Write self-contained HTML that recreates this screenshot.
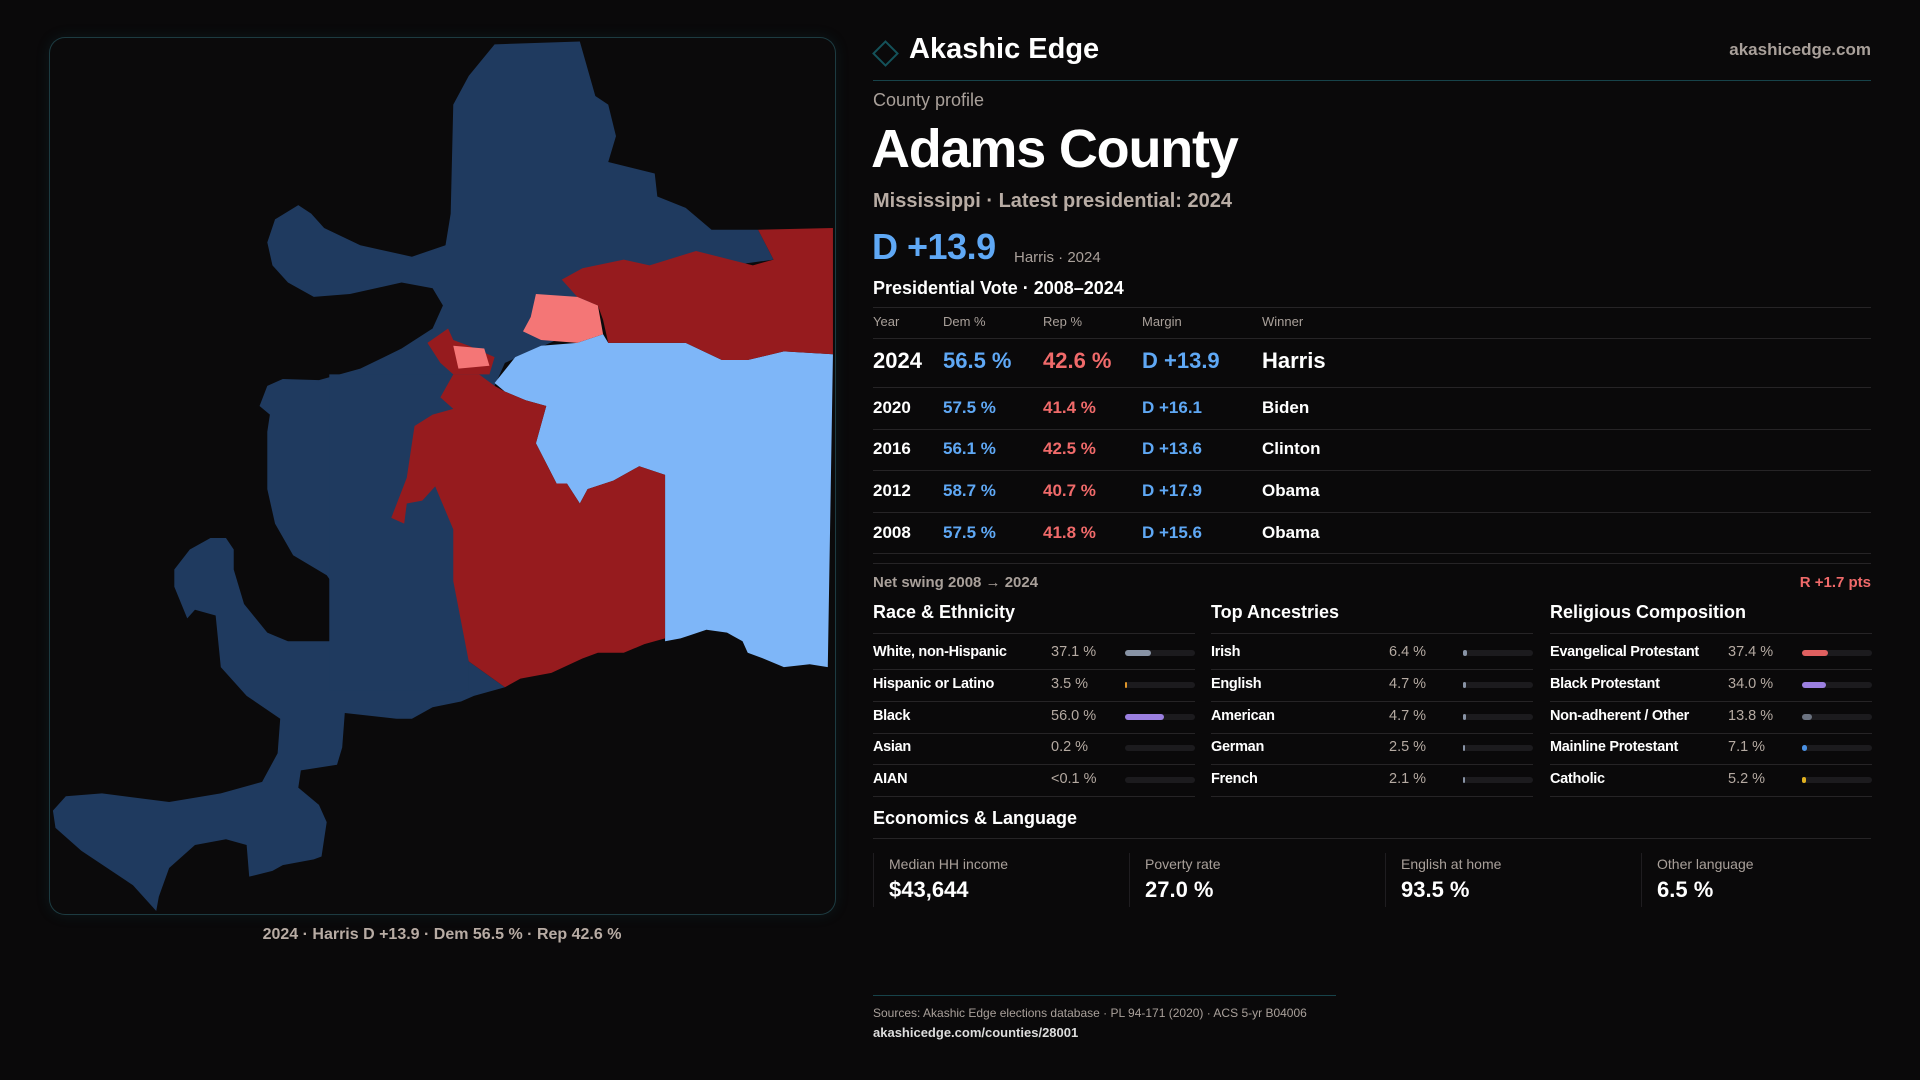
<!DOCTYPE html>
<html><head><meta charset="utf-8"><style>
*{margin:0;padding:0;box-sizing:border-box}
body{width:1920px;height:1080px;background:#0a090a;font-family:"Liberation Sans",sans-serif;color:#fff;position:relative;overflow:hidden}
.a{position:absolute;white-space:nowrap}
.g{color:#a9a09a}
.hl{position:absolute;height:1px;background:#262426}
.blue{color:#5fa8f5}.red{color:#f06a6a}
</style></head><body>
<div class="a" style="left:49px;top:37px;width:787px;height:878px;border:1px solid rgba(50,120,130,.45);border-radius:16px;background:#0b0a0b;box-shadow:0 0 14px rgba(30,110,120,.15)"></div>
<svg style="position:absolute;left:40px;top:30px" width="810" height="900" viewBox="0 0 1568 1568" preserveAspectRatio="none">
<polygon fill="#1f3a5f" points="880,25 1045,20 1075,115 1100,130 1115,185 1100,230 1190,250 1195,290 1250,310 1300,348 1390,348 1420,400 1100,440 1000,540 900,580 880,620 830,640 800,660 760,680 720,860 800,870 800,960 830,1100 900,1145 840,1160 815,1170 760,1180 720,1200 690,1200 590,1190 585,1250 575,1280 505,1290 500,1320 540,1350 555,1380 545,1440 530,1445 470,1455 450,1465 405,1475 400,1420 360,1410 300,1420 250,1460 230,1510 225,1535 180,1490 80,1430 30,1390 25,1360 50,1335 120,1330 250,1345 350,1330 430,1310 460,1260 465,1200 400,1160 350,1110 340,1020 300,1010 285,1025 260,970 260,940 290,905 330,885 360,885 375,905 375,940 395,1000 440,1050 480,1065 560,1065 580,1040 575,975 555,950 490,915 455,860 440,800 440,700 445,670 425,655 440,620 470,608 540,610 620,590 700,555 760,520 780,480 760,450 700,440 600,460 530,465 480,440 450,410 440,370 455,330 500,305 525,320 550,345 620,375 720,395 785,375 795,320 800,130 830,80"/>
<polygon fill="#1f3a5f" points="560,600 830,600 830,1150 560,1150"/>
<polygon fill="#7eb6f8" points="880,615 920,570 970,550 1040,545 1090,530 1100,545 1250,545 1320,575 1370,575 1440,560 1535,565 1525,1110 1490,1105 1440,1110 1400,1095 1370,1085 1360,1065 1330,1050 1290,1045 1240,1060 1210,1065 1210,775 1160,760 1110,785 1060,800 1045,825 1020,790 1000,790 960,720 980,655 940,645 900,630"/>
<polygon fill="#961b1e" points="1010,435 1050,415 1130,400 1180,410 1270,385 1380,410 1420,400 1390,348 1535,345 1535,565 1440,560 1370,575 1320,575 1250,545 1100,545 1090,505 1080,480 1040,465"/>
<polygon fill="#f47676" points="960,460 1040,465 1080,480 1090,530 1040,545 970,540 935,525 950,500"/>
<polygon fill="#961b1e" points="775,640 800,600 850,600 880,620 900,630 940,645 980,655 960,720 1000,790 1020,790 1045,825 1060,800 1110,785 1160,760 1210,775 1210,1060 1170,1070 1130,1085 1080,1085 1050,1095 990,1120 930,1130 900,1145 830,1100 800,960 800,870 765,795 740,820 710,825 705,860 680,850 710,780 725,690 760,670 800,660"/>
<polygon fill="#961b1e" points="750,545 790,520 800,540 830,550 880,570 870,600 800,600 775,580"/>
<polygon fill="#f47676" points="800,550 860,555 870,585 810,590"/>
</svg>
<div class="a g" style="left:442px;top:926px;transform:translateX(-50%);font-size:16px;font-weight:bold;color:#b8aca4">2024 · Harris D +13.9 · Dem 56.5 % · Rep 42.6 %</div>

<div class="a" style="left:876px;top:44px;width:19px;height:19px;border:2px solid #14525a;transform:rotate(45deg)"></div>
<div class="a" style="left:909px;top:33px;font-size:29px;font-weight:bold">Akashic Edge</div>
<div class="a" style="right:49px;top:40px;font-size:17px;font-weight:bold;color:#a9a09a">akashicedge.com</div>
<div class="hl" style="left:873px;top:80px;width:998px;background:#17434a"></div>
<div class="a g" style="left:873px;top:90px;font-size:18px">County profile</div>
<div class="a" style="left:871px;top:118px;font-size:54px;font-weight:bold;letter-spacing:-1.2px">Adams County</div>
<div class="a" style="left:873px;top:190px;font-size:20px;font-weight:bold;color:#b8aca4">Mississippi · Latest presidential: 2024</div>
<div class="a blue" style="left:872px;top:226px;font-size:36px;font-weight:bold;letter-spacing:-0.5px">D +13.9</div>
<div class="a g" style="left:1014px;top:249px;font-size:15px">Harris · 2024</div>
<div class="a" style="left:873px;top:278px;font-size:18px;font-weight:bold">Presidential Vote · 2008–2024</div>
<div class="hl" style="left:873px;top:307px;width:998px"></div>
<div class="a g" style="left:873px;top:314px;font-size:13px">Year</div>
<div class="a g" style="left:943px;top:314px;font-size:13px">Dem %</div>
<div class="a g" style="left:1043px;top:314px;font-size:13px">Rep %</div>
<div class="a g" style="left:1142px;top:314px;font-size:13px">Margin</div>
<div class="a g" style="left:1262px;top:314px;font-size:13px">Winner</div>
<div class="hl" style="left:873px;top:338px;width:998px"></div>
<div id="vote"></div>
<div class="hl" style="left:873px;top:563px;width:998px"></div>
<div class="a g" style="left:873px;top:574px;font-size:15px;font-weight:bold">Net swing 2008 → 2024</div>
<div class="a red" style="right:49px;top:574px;font-size:15px;font-weight:bold">R +1.7 pts</div>
<div id="demo"></div>
<div class="a" style="left:873px;top:808px;font-size:18px;font-weight:bold">Economics &amp; Language</div>
<div class="hl" style="left:873px;top:838px;width:998px"></div>
<div id="econ"></div>
<div class="hl" style="left:873px;top:995px;width:463px;background:#17434a"></div>
<div class="a g" style="left:873px;top:1006px;font-size:12px">Sources: Akashic Edge elections database · PL 94-171 (2020) · ACS 5-yr B04006</div>
<div class="a" style="left:873px;top:1025px;font-size:13px;font-weight:bold;color:#ddd">akashicedge.com/counties/28001</div>
<script>
const years=["2024","2020","2016","2012","2008"];
const demPct=[56.5,57.5,56.1,58.7,57.5];
const repPct=[42.6,41.4,42.5,40.7,41.8];
const margins=[13.9,16.1,13.6,17.9,15.6];
const winners=["Harris","Biden","Clinton","Obama","Obama"];
const raceLabels=["White, non-Hispanic","Hispanic or Latino","Black","Asian","AIAN"];
const raceValues=[37.1,3.5,56.0,0.2,0.05];
const raceText=["37.1 %","3.5 %","56.0 %","0.2 %","<0.1 %"];
const ancLabels=["Irish","English","American","German","French"];
const ancValues=[6.4,4.7,4.7,2.5,2.1];
const relLabels=["Evangelical Protestant","Black Protestant","Non-adherent / Other","Mainline Protestant","Catholic"];
const relValues=[37.4,34.0,13.8,7.1,5.2];
const econLabels=["Median HH income","Poverty rate","English at home","Other language"];
const econValues=["$43,644","27.0 %","93.5 %","6.5 %"];

const vote=document.getElementById('vote');
const rowY=[361,408,449,491,533];
years.forEach((y,i)=>{
  const fs=i===0?22:17, top=rowY[i]-fs*0.6;
  const m=margins[i];
  const cells=[[873,y,'#fff'],[943,demPct[i].toFixed(1)+' %','#5fa8f5'],[1043,repPct[i].toFixed(1)+' %','#f06a6a'],[1142,(m>=0?'D +':'R +')+Math.abs(m).toFixed(1),m>=0?'#5fa8f5':'#f06a6a'],[1262,winners[i],'#fff']];
  cells.forEach(c=>{const d=document.createElement('div');d.className='a';
    
    
    d.style.cssText=`left:${c[0]}px;top:${top}px;font-size:${fs}px;font-weight:bold;color:${c[2]}`;d.textContent=c[1];vote.appendChild(d);});
  const l=document.createElement('div');l.className='hl';
  
  
  l.style.cssText=`left:873px;top:${[387,429,470,512,553][i]}px;width:998px`;vote.appendChild(l);
});

const demo=document.getElementById('demo');
const cols=[{x:873,t:"Race & Ethnicity",L:raceLabels,V:raceValues,T:raceText,C:["#8893a5","#e0962a","#9b7fe0","#8893a5","#8893a5"]},
 {x:1211,t:"Top Ancestries",L:ancLabels,V:ancValues,T:ancValues.map(v=>v.toFixed(1)+' %'),C:["#8893a5","#8893a5","#8893a5","#8893a5","#8893a5"]},
 {x:1550,t:"Religious Composition",L:relLabels,V:relValues,T:relValues.map(v=>v.toFixed(1)+' %'),C:["#e06060","#9b7fe0","#6b7280","#4a90e2","#e0b020"]}];
cols.forEach((c,ci)=>{
  const h=document.createElement('div');h.className='a';
  
  
  h.style.cssText=`left:${c.x}px;top:602px;font-size:18px;font-weight:bold`;h.textContent=c.t;demo.appendChild(h);
  const r0=document.createElement('div');r0.className='hl';
  
  
  r0.style.cssText=`left:${c.x}px;top:633px;width:322px`;demo.appendChild(r0);
  c.L.forEach((lab,i)=>{
    const cy=653+i*31.8;
    const a=document.createElement('div');a.className='a';
    
    
    a.style.cssText=`left:${c.x}px;top:${cy-9}px;font-size:14.5px;font-weight:bold;letter-spacing:-0.3px`;a.textContent=lab;demo.appendChild(a);
    const v=document.createElement('div');v.className='a';
    
    
    v.style.cssText=`left:${c.x+178}px;top:${cy-9}px;font-size:14.5px;color:#b5aaa2`;v.textContent=c.T[i];demo.appendChild(v);
    const tr=document.createElement('div');tr.className='a';
    
    
    tr.style.cssText=`left:${c.x+252}px;top:${cy-3}px;width:70px;height:6px;border-radius:3px;background:#1c1b1e`;demo.appendChild(tr);
    const b=document.createElement('div');b.className='a';
    
    
    const w=c.V[i]/100*70;
    b.style.cssText=`left:${c.x+252}px;top:${cy-3}px;width:${w<0.5?0:Math.max(w,2)}px;height:6px;border-radius:3px;background:${c.C[i]}`;demo.appendChild(b);
    const rl=document.createElement('div');rl.className='hl';
    
    
    rl.style.cssText=`left:${c.x}px;top:${cy+16}px;width:322px`;demo.appendChild(rl);
  });
});

const econ=document.getElementById('econ');
const ex=[873,1129,1385,1641];
econLabels.forEach((l,i)=>{
  const d=document.createElement('div');d.className='a';
  
  
  d.style.cssText=`left:${ex[i]}px;top:853px;width:230px;height:54px;border-left:1px solid #1f1d20`;
  d.innerHTML=`<div class="a" style="left:15px;top:3px;font-size:14px;color:#a9a09a">${l}</div><div class="a" style="left:15px;top:24px;font-size:22px;font-weight:bold">${econValues[i]}</div>`;
  econ.appendChild(d);
});
</script>
</body></html>
